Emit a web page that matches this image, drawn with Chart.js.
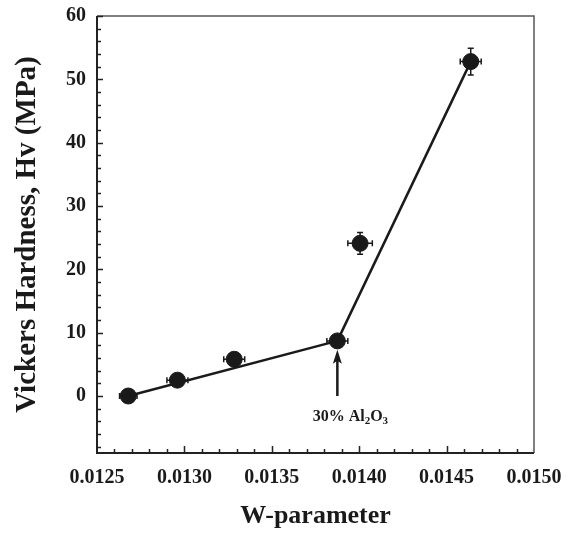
<!DOCTYPE html>
<html>
<head>
<meta charset="utf-8">
<script src="https://cdn.jsdelivr.net/npm/chart.js@4.4.1/dist/chart.umd.min.js"></script>
<style>
  html, body { margin: 0; padding: 0; background: #fff; }
  canvas { display: block; }
</style>
</head>
<body>
<canvas id="chartDureza" width="569" height="537"></canvas>
<script>
// Dureza Vickers frente al parámetro W
const wParam   = [0.012679, 0.012960, 0.013285, 0.013875, 0.014005, 0.014638];
const hardness = [0.0, 2.5, 5.8, 8.7, 24.1, 52.8];
const wErr     = [0.00005, 0.00006, 0.00006, 0.00006, 0.00007, 0.00006];
const hvErr    = [0.3, 0.4, 0.5, 0.6, 1.7, 2.1];

// ajustes lineales por debajo y por encima de 30% Al2O3
const fitLowX  = [0.012679, 0.013875];
const fitLowY  = [0.0, 8.7];
const fitHighX = [0.013875, 0.014638];
const fitHighY = [8.7, 52.8];

// ejes
const xTicks = [0.0125, 0.0130, 0.0135, 0.0140, 0.0145, 0.0150];
const yTicks = [0, 10, 20, 30, 40, 50, 60];

// flecha y etiqueta
const arrowX = 0.013875;
const arrowFromY = 0.0;
const arrowToY = 7.3;
const noteY = -3.3;

const ink = '#1a1a1a';
const serif = "'Liberation Serif', 'Times New Roman', serif";

const toPts = (xs, ys) => xs.map((v, i) => ({ x: v, y: ys[i] }));

const frameAndTicks = {
  id: 'frameAndTicks',
  afterDraw(chart) {
    const { ctx, chartArea: a, scales: { x, y } } = chart;
    ctx.save();
    // marco
    ctx.strokeStyle = '#555';
    ctx.lineWidth = 1.5;
    ctx.beginPath();
    ctx.moveTo(a.left, a.top); ctx.lineTo(a.right, a.top); ctx.lineTo(a.right, a.bottom);
    ctx.stroke();
    ctx.strokeStyle = '#222';
    ctx.lineWidth = 2;
    ctx.beginPath();
    ctx.moveTo(a.left, a.top); ctx.lineTo(a.left, a.bottom); ctx.lineTo(a.right, a.bottom);
    ctx.stroke();

    // marcas hacia dentro
    ctx.lineWidth = 1.5;
    ctx.beginPath();
    for (let v = -8; v <= 60; v += 2) {
      const py = Math.round(y.getPixelForValue(v)) + 0.5;
      const len = v % 10 === 0 ? 6 : 4;
      ctx.moveTo(a.left, py); ctx.lineTo(a.left + len, py);
    }
    for (let i = 1; i < 25; i++) {
      const px = Math.round(x.getPixelForValue(0.0125 + i * 0.0001)) + 0.5;
      const len = i % 5 === 0 ? 7 : 4;
      ctx.moveTo(px, a.bottom); ctx.lineTo(px, a.bottom - len);
    }
    ctx.stroke();
    ctx.restore();
  }
};

const errorBars = {
  id: 'errorBars',
  afterDatasetsDraw(chart) {
    const { ctx, scales: { x, y } } = chart;
    ctx.save();
    ctx.strokeStyle = ink;
    ctx.lineWidth = 1.5;
    ctx.beginPath();
    wParam.forEach((w, i) => {
      const px = x.getPixelForValue(w);
      const py = y.getPixelForValue(hardness[i]);
      const x0 = x.getPixelForValue(w - wErr[i]);
      const x1 = x.getPixelForValue(w + wErr[i]);
      const y0 = y.getPixelForValue(hardness[i] - hvErr[i]);
      const y1 = y.getPixelForValue(hardness[i] + hvErr[i]);
      ctx.moveTo(x0, py); ctx.lineTo(x1, py);
      ctx.moveTo(x0, py - 3); ctx.lineTo(x0, py + 3);
      ctx.moveTo(x1, py - 3); ctx.lineTo(x1, py + 3);
      ctx.moveTo(px, y0); ctx.lineTo(px, y1);
      ctx.moveTo(px - 3, y0); ctx.lineTo(px + 3, y0);
      ctx.moveTo(px - 3, y1); ctx.lineTo(px + 3, y1);
    });
    ctx.stroke();

    // flecha hacia el punto de 30% Al2O3
    const ax = x.getPixelForValue(arrowX);
    const ay0 = y.getPixelForValue(arrowFromY);
    const ay1 = y.getPixelForValue(arrowToY);
    ctx.lineWidth = 2.5;
    ctx.beginPath();
    ctx.moveTo(ax, ay0); ctx.lineTo(ax, ay1 + 8);
    ctx.stroke();
    ctx.fillStyle = ink;
    ctx.beginPath();
    ctx.moveTo(ax, ay1);
    ctx.lineTo(ax - 4.5, ay1 + 14);
    ctx.lineTo(ax, ay1 + 11);
    ctx.lineTo(ax + 4.5, ay1 + 14);
    ctx.closePath();
    ctx.fill();

    // etiqueta con subíndices
    const big = 'bold 16px ' + serif;
    const small = 'bold 11px ' + serif;
    const parts = [['30% Al', big, 0], ['2', small, 4], ['O', big, 0], ['3', small, 4]];
    let total = 0;
    parts.forEach(p => { ctx.font = p[1]; total += ctx.measureText(p[0]).width; });
    let cx = ax + 13 - total / 2;
    const cy = y.getPixelForValue(noteY);
    ctx.textBaseline = 'middle';
    ctx.textAlign = 'left';
    parts.forEach(p => {
      ctx.font = p[1];
      ctx.fillText(p[0], cx, cy + p[2]);
      cx += ctx.measureText(p[0]).width;
    });
    ctx.restore();
  }
};

new Chart(document.getElementById('chartDureza').getContext('2d'), {
  type: 'scatter',
  data: {
    datasets: [
      {
        label: 'Ajuste bajo',
        data: toPts(fitLowX, fitLowY),
        showLine: true,
        borderColor: ink,
        borderWidth: 2.5,
        pointRadius: 0,
        order: 2
      },
      {
        label: 'Ajuste alto',
        data: toPts(fitHighX, fitHighY),
        showLine: true,
        borderColor: ink,
        borderWidth: 2.5,
        pointRadius: 0,
        order: 2
      },
      {
        label: 'Hv',
        data: toPts(wParam, hardness),
        backgroundColor: ink,
        borderColor: ink,
        pointRadius: 8,
        pointHoverRadius: 8,
        order: 1
      }
    ]
  },
  options: {
    responsive: false,
    animation: false,
    layout: { padding: { top: 16, right: 35, left: 0, bottom: 0 } },
    plugins: {
      legend: { display: false },
      tooltip: { enabled: false }
    },
    scales: {
      x: {
        type: 'linear',
        min: 0.0125,
        max: 0.0150,
        afterBuildTicks: s => { s.ticks = xTicks.map(v => ({ value: v })); },
        afterFit: s => { s.height = 84; s.paddingLeft = 0; s.paddingRight = 0; },
        grid: { display: false, drawTicks: false },
        border: { display: false },
        ticks: {
          padding: 13,
          color: ink,
          font: { family: serif, size: 20, weight: 'bold' },
          callback: v => v.toFixed(4)
        },
        title: {
          display: true,
          text: 'W-parameter',
          color: ink,
          font: { family: serif, size: 26, weight: 'bold' },
          padding: { top: 5, bottom: 5 }
        }
      },
      y: {
        type: 'linear',
        min: -9,
        max: 60,
        afterBuildTicks: s => { s.ticks = yTicks.map(v => ({ value: v })); },
        afterFit: s => { s.width = 97; s.paddingTop = 0; s.paddingBottom = 0; },
        grid: { display: false, drawTicks: false },
        border: { display: false },
        ticks: {
          padding: 11,
          color: ink,
          font: { family: serif, size: 20, weight: 'bold' }
        },
        title: {
          display: true,
          text: 'Vickers Hardness, Hv (MPa)',
          color: ink,
          font: { family: serif, size: 29, weight: 'bold' },
          padding: { top: 10, bottom: 5 }
        }
      }
    }
  },
  plugins: [frameAndTicks, errorBars]
});
</script>
</body>
</html>
